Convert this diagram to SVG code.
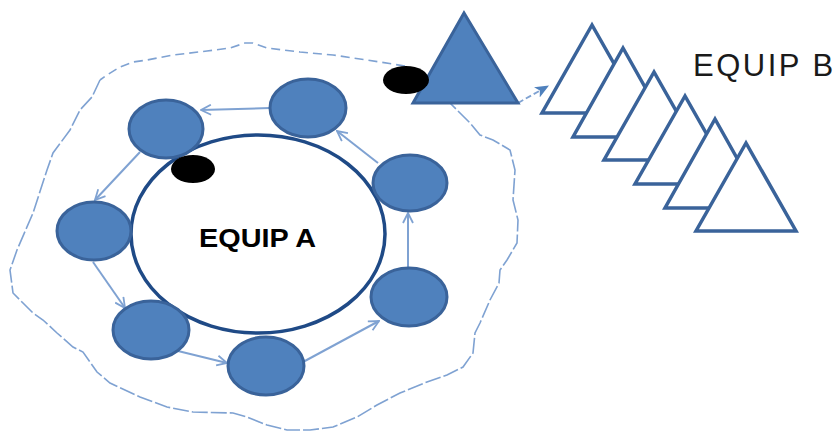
<svg xmlns="http://www.w3.org/2000/svg" width="839" height="431" viewBox="0 0 839 431">
<defs>
<style>
.small{fill:#4F81BD;stroke:#3A639A;stroke-width:3}
.big{fill:#ffffff;stroke:#1F4A86;stroke-width:3.5}
.dot{fill:#000000}
.tri{fill:#4F81BD;stroke:#3A639A;stroke-width:3;stroke-linejoin:miter}
.wtri{fill:#ffffff;stroke:#3A639A;stroke-width:3.5;stroke-linejoin:miter}
.arrow{stroke:#7FA2D2;stroke-width:2;fill:none;marker-end:url(#open)}
.bound{stroke:#7FA2D2;stroke-width:1.6;fill:none}
.lbl{font-family:"Liberation Sans","DejaVu Sans",sans-serif}
</style>
<marker id="open" viewBox="0 0 12 12" refX="11" refY="6" markerWidth="12" markerHeight="12" markerUnits="userSpaceOnUse" orient="auto">
<path d="M1,1 L11,6 L1,11" fill="none" stroke="#7FA2D2" stroke-width="1.8"/>
</marker>
<marker id="fill" viewBox="0 0 12 12" refX="11" refY="6" markerWidth="14" markerHeight="14" markerUnits="userSpaceOnUse" orient="auto">
<path d="M0,1 L12,6 L0,11 L3,6 Z" fill="#4F81BD"/>
</marker>
</defs>
<rect width="839" height="431" fill="#ffffff"/>
<g id="connectors">
<path class="bound" stroke-dasharray="9 5" d="M405,66 L367,60 L333,55 L300,52 L267,48 L253,43 L245,43 L230,48 L207,51 L173,55 L147,60 L133,62 L120,67 L107,75 L100,80"/>
<path class="bound" stroke-dasharray="16 3" d="M100,80 L92,97 L80,110 L70,130 L53,153 L47,170 L33,213 L17,250 L10,270 L13,293 L33,313 L43,320 L57,333 L73,347 L83,352 L97,372 L110,383 L140,397 L167,407 L193,412 L233,413 L247,417 L267,425 L287,430 L310,430 L333,427 L357,417 L377,405 L400,393 L427,382 L447,375 L463,367 L473,353 L475,333 L480,323 L490,300 L499,283 L500,270 L507,260 L517,243 L518,220 L513,200 L515,170 L510,150 L493,140 L480,135 L470,123 L457,110 L450,103"/>
<path stroke="#7FA2D2" stroke-width="1.8" fill="none" stroke-dasharray="6 3" marker-end="url(#fill)" d="M518,103 L548,86"/>
</g>
<g id="equipA">
<ellipse class="big" cx="258" cy="234" rx="127" ry="99"/>
<text class="lbl" x="199" y="247" font-size="25" font-weight="bold" textLength="117" lengthAdjust="spacingAndGlyphs" fill="#000000">EQUIP A</text>
</g>
<g id="arrows">
<line class="arrow" x1="270" y1="108" x2="201" y2="110"/>
<line class="arrow" x1="378" y1="163" x2="337" y2="131"/>
<line class="arrow" x1="408" y1="268" x2="408" y2="213"/>
<line class="arrow" x1="303" y1="362" x2="379" y2="321"/>
<line class="arrow" x1="178" y1="351" x2="227" y2="363"/>
<line class="arrow" x1="93" y1="262" x2="125" y2="308"/>
<line class="arrow" x1="140" y1="152" x2="95" y2="200"/>
</g>
<g id="node1"><ellipse class="small" cx="166" cy="129" rx="37" ry="29"/></g>
<g id="node2"><ellipse class="small" cx="308" cy="108" rx="38" ry="29"/></g>
<g id="node3"><ellipse class="small" cx="410" cy="183" rx="37" ry="28"/></g>
<g id="node4"><ellipse class="small" cx="409" cy="297" rx="38" ry="29"/></g>
<g id="node5"><ellipse class="small" cx="266" cy="366" rx="38" ry="29"/></g>
<g id="node6"><ellipse class="small" cx="151" cy="330" rx="38" ry="29"/></g>
<g id="node7"><ellipse class="small" cx="94" cy="231" rx="37" ry="29"/></g>
<g id="dot1"><ellipse class="dot" cx="193" cy="169" rx="22" ry="14"/></g>
<g id="equipBMain"><polygon class="tri" points="464,13 413,103 518,103"/></g>
<g id="dot2"><ellipse class="dot" cx="406" cy="80" rx="23" ry="14"/></g>
<g id="equipB">
<polygon class="wtri" points="592,25 542,113 642,113"/>
<polygon class="wtri" points="623,48 573,137 673,137"/>
<polygon class="wtri" points="654,72 604,160 704,160"/>
<polygon class="wtri" points="685,96 635,184 735,184"/>
<polygon class="wtri" points="715,119 665,208 765,208"/>
<polygon class="wtri" points="746,143 696,231 796,231"/>
<text class="lbl" x="693" y="76" font-size="31" letter-spacing="2.5" fill="#1a1a1a">EQUIP B</text>
</g>
</svg>
